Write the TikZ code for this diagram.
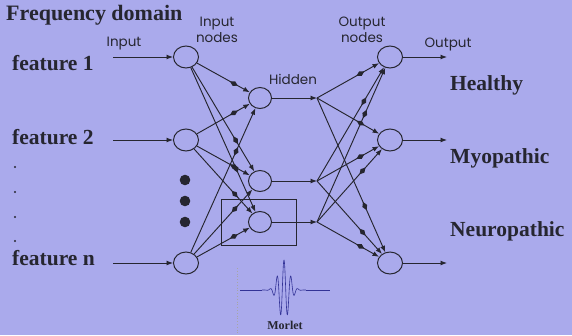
\documentclass[tikz,border=0pt]{standalone}
\usepackage{fontspec}
\setmainfont{Liberation Serif}
\newfontfamily\labelsans{Poppins}
\usetikzlibrary{arrows.meta,decorations.markings,shapes.geometric}
\definecolor{bgc}{RGB}{170,170,236}
\definecolor{ink}{RGB}{38,38,48}
\definecolor{wave}{RGB}{50,50,150}
\begin{document}
\begin{tikzpicture}[x=1pt,y=-1pt,
  neuron/.style={ellipse, draw=ink, line width=1pt, minimum width=25pt, minimum height=22pt, inner sep=0pt},
  hid/.style={neuron, minimum width=23pt, minimum height=21pt},
  conn/.style={draw=ink, line width=0.95pt, -{Latex[length=6.5pt,width=5pt]}, postaction={decorate},
    decoration={markings, mark=at position 0.7 with {\fill[ink] (-4.5pt,0) -- (0,2.6pt) -- (4.5pt,0) -- (0,-2.6pt) -- cycle;}}},
  plainarr/.style={draw=ink, line width=0.95pt, -{Latex[length=6.5pt,width=5pt]}},
  bigtext/.style={font=\fontsize{21.5}{23}\selectfont\bfseries, text=ink, inner sep=0pt},
  smalltext/.style={font=\labelsans\fontsize{13.5}{16.5}\selectfont, text=ink, inner sep=0pt, align=center},
]
\fill[bgc] (0,0) rectangle (572,335);
\useasboundingbox (0,0) rectangle (572,335);

% nodes
\node[neuron] (I1) at (186,57) {};
\node[neuron] (I2) at (186,140) {};
\node[neuron] (In) at (186,263) {};
\node[hid] (H1) at (260,98) {};
\node[hid] (H2) at (260,181) {};
\node[hid] (H3) at (260,222) {};
\node[neuron] (O1) at (390,57) {};
\node[neuron] (O2) at (390,140) {};
\node[neuron] (O3) at (390,263) {};
\node[draw=ink, line width=0.95pt, minimum width=75pt, minimum height=46pt, inner sep=0pt] (box) at (258.5,222) {};

\coordinate (S1) at (113,57);
\coordinate (S2) at (113,140);
\coordinate (Sn) at (113,263);
\coordinate (B1) at (317,98);
\coordinate (B2) at (317,181);
\coordinate (B3) at (317,222);
\coordinate (E1) at (447,57);
\coordinate (E2) at (447,140);
\coordinate (E3) at (447,263);

% input arrows
\draw[plainarr] (S1) -- (I1);
\draw[plainarr] (S2) -- (I2);
\draw[plainarr] (Sn) -- (In);

% input to hidden
\foreach \i in {I1,I2,In}{
  \foreach \h in {H1,H2,H3}{
    \draw[conn] (\i) -- (\h);
  }
}
% hidden to branch points
\draw[plainarr] (H1) -- (B1);
\draw[plainarr] (H2) -- (B2);
\draw[plainarr] (H3) -- (B3);
% branch to outputs
\foreach \b in {B1,B2,B3}{
  \foreach \o in {O1,O2,O3}{
    \draw[conn] (\b) -- (\o);
  }
}
% output arrows
\draw[plainarr] (O1) -- (E1);
\draw[plainarr] (O2) -- (E2);
\draw[plainarr] (O3) -- (E3);

% ellipsis dots
\fill[ink] (185,180) circle (5.3);
\fill[ink] (185,201) circle (5.3);
\fill[ink] (185,222) circle (5.3);
\foreach \yy in {167,192,217,241}{\fill[ink] (15,\yy) circle (1.1);}

% texts
\node[bigtext, font=\fontsize{22}{24}\selectfont\bfseries, anchor=base west] (freq) at (6,20) {Frequency domain};
\node[bigtext, anchor=base west] (f1) at (12,70) {feature 1};
\node[bigtext, anchor=base west] (f2) at (12,144) {feature 2};
\node[bigtext, anchor=base west] (fn) at (12,265) {feature n};
\node[bigtext, anchor=base west] (healthy) at (450,90) {Healthy};
\node[bigtext, anchor=base west] (myo) at (450,163) {Myopathic};
\node[bigtext, anchor=base west] (neuro) at (450,236) {Neuropathic};

\node[smalltext] (inlab) at (124,44) {Input};
\node[smalltext] (innodes) at (217,30) {Input\\nodes};
\node[smalltext] (hidlab) at (293,79) {Hidden};
\node[smalltext] (outnodes) at (362,30) {Output\\nodes};
\node[smalltext] (outlab) at (448,44) {Output};

% Morlet wavelet
\draw[gray!70, dotted, line width=0.8pt] (237,268) -- (237,335);
\draw[wave, line width=0.9pt] (240,290) -- (262,290);
\draw[wave, line width=0.9pt] (306,290) -- (330,290);
\draw[wave, line width=0.6pt] plot[domain=-4:4, samples=240, smooth] ({284+5.5*\x}, {290-30*cos(5*\x r)*exp(-\x*\x/2)});
\node[font=\fontsize{12}{13}\selectfont\bfseries, text=ink, inner sep=0pt] (morlet) at (285,325) {Morlet};
\end{tikzpicture}
\end{document}
